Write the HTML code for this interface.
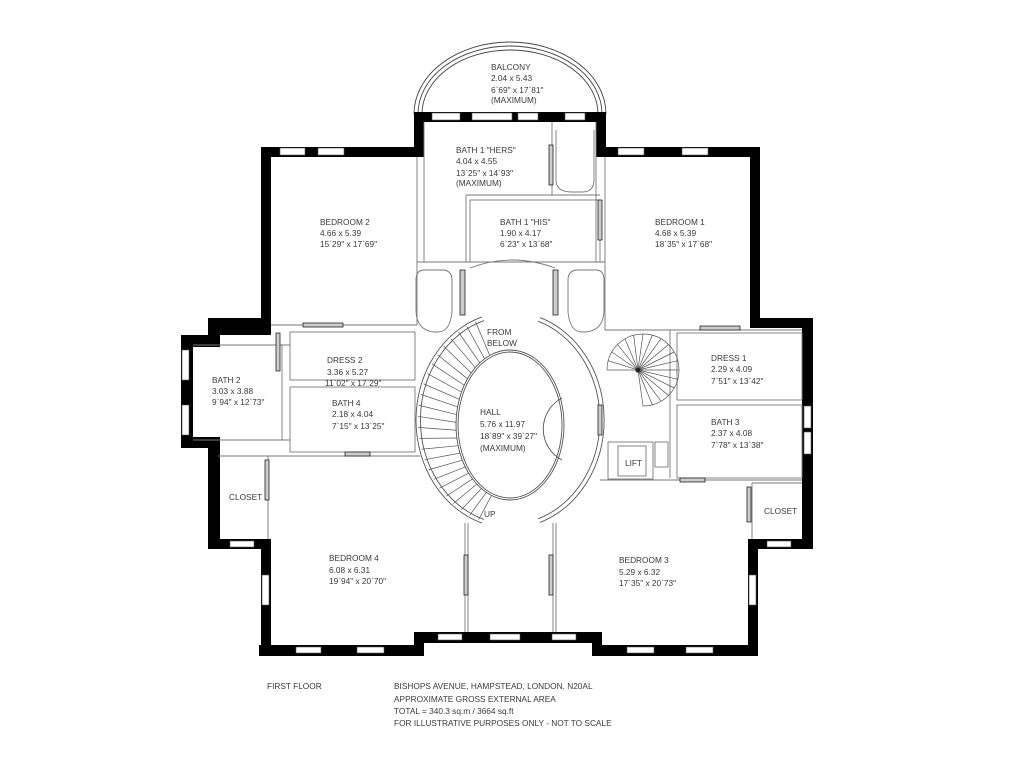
<!DOCTYPE html>
<html><head><meta charset="utf-8"><style>
html,body{margin:0;padding:0;background:#fff}
svg{display:block}
text{font-family:"Liberation Sans",sans-serif;font-size:8.3px;fill:#3a3a3a}
</style></head><body>
<svg width="1024" height="768" viewBox="0 0 1024 768" xmlns="http://www.w3.org/2000/svg">
<rect width="1024" height="768" fill="#fff"/>
<g fill="none" stroke="#444" stroke-width="0.9">
<path d="M414 114 A96 72 0 0 1 606 114"/>
<path d="M418 114 A92 68 0 0 1 602 114"/>
<path d="M422 114 A88 64 0 0 1 598 114"/>
</g>
<g fill="#000">
<rect x="414" y="112" width="192" height="10"/>
<rect x="414" y="112" width="10" height="45"/>
<rect x="596" y="112" width="10" height="45"/>
<rect x="261" y="147" width="163" height="10"/>
<rect x="596" y="147" width="164" height="10"/>
<rect x="261" y="147" width="10" height="188"/>
<rect x="750" y="147" width="10" height="180"/>
<rect x="208" y="318" width="63" height="17"/>
<rect x="181" y="335" width="39" height="12"/>
<rect x="181" y="335" width="12" height="113"/>
<rect x="181" y="437" width="39" height="11"/>
<rect x="208" y="437" width="12" height="112"/>
<rect x="208" y="539" width="63" height="10"/>
<rect x="261" y="539" width="10" height="117"/>
<rect x="259" y="645" width="165" height="11"/>
<rect x="414" y="632" width="10" height="24"/>
<rect x="414" y="632" width="188" height="11"/>
<rect x="592" y="632" width="10" height="24"/>
<rect x="592" y="645" width="166" height="11"/>
<rect x="748" y="539" width="10" height="117"/>
<rect x="748" y="539" width="65" height="10"/>
<rect x="750" y="318" width="63" height="10"/>
<rect x="802" y="318" width="11" height="231"/>
</g>
<g fill="#fff" stroke="#555" stroke-width="0.6">
<rect x="432" y="113" width="28" height="7"/><rect x="472" y="113" width="40" height="7"/><rect x="518" y="113" width="20" height="7"/><rect x="565" y="113" width="20" height="7"/>
<rect x="280" y="148" width="25" height="7"/><rect x="318" y="148" width="26" height="7"/>
<rect x="618" y="148" width="26" height="7"/><rect x="682" y="148" width="26" height="7"/>
<rect x="182" y="350" width="7" height="30"/><rect x="182" y="405" width="7" height="30"/>
<rect x="230" y="541" width="24" height="6"/>
<rect x="262" y="575" width="7" height="30"/>
<rect x="296" y="647" width="25" height="6"/><rect x="357" y="647" width="27" height="6"/>
<rect x="438" y="634" width="24" height="6"/><rect x="490" y="634" width="30" height="6"/><rect x="552" y="634" width="24" height="6"/>
<rect x="627" y="647" width="27" height="6"/><rect x="686" y="647" width="27" height="6"/>
<rect x="749" y="575" width="7" height="30"/>
<rect x="767" y="541" width="24" height="6"/>
<rect x="804" y="406" width="7" height="22"/><rect x="804" y="432" width="7" height="22"/>
</g>
<g fill="none" stroke="#777" stroke-width="0.9">
<line x1="417" y1="157" x2="417" y2="325"/>
<line x1="605" y1="157" x2="605" y2="330"/>
<line x1="271" y1="325" x2="417" y2="325"/>
<line x1="424" y1="122" x2="424" y2="262"/>
<line x1="596" y1="122" x2="596" y2="262"/>
<line x1="552" y1="122" x2="552" y2="195"/>
<line x1="466" y1="195" x2="600" y2="195"/>
<line x1="466" y1="195" x2="466" y2="262"/>
<rect x="470" y="200" width="130" height="62"/>
<line x1="417" y1="262" x2="605" y2="262"/>
<path d="M470 268 Q512 252 555 268"/>
<path d="M424 270 q-8 0 -8 10 v30 q0 20 18 22 h4 q12 0 14 -20 v-32 q0-10-10-10 z"/>
<path d="M596 270 q8 0 8 10 v30 q0 20 -18 22 h-4 q-12 0 -14 -20 v-32 q0-10 10-10 z"/>
<path d="M556 130 v50 q0 12 16 12 h10 q12 0 12 -12 v-50"/>
<rect x="290" y="332" width="125" height="48"/>
<rect x="290" y="387" width="125" height="65"/>
<line x1="193" y1="345" x2="290" y2="345"/>
<line x1="218" y1="456" x2="420" y2="456"/>
<line x1="193" y1="440" x2="290" y2="440"/>
<line x1="282" y1="345" x2="282" y2="440"/>
<line x1="268" y1="456" x2="268" y2="539"/>
<line x1="605" y1="330" x2="802" y2="330"/>
<rect x="677" y="333" width="125" height="67"/>
<rect x="677" y="405" width="125" height="73"/>
<line x1="670" y1="330" x2="670" y2="478"/>
<line x1="600" y1="480" x2="802" y2="480"/>
<line x1="752" y1="483" x2="752" y2="539"/>
<line x1="752" y1="483" x2="802" y2="483"/>
<rect x="608" y="442" width="45" height="37"/>
<rect x="618" y="446" width="28" height="30"/>
<rect x="655" y="442" width="13" height="25"/>
<line x1="465" y1="523" x2="465" y2="632"/>
<line x1="468" y1="523" x2="468" y2="632"/>
<line x1="553" y1="523" x2="553" y2="632"/>
<line x1="556" y1="523" x2="556" y2="632"/>
</g>
<g fill="none" stroke="#555" stroke-width="0.9">
<path d="M482 316.9 A94 108 0 0 0 482 523.1"/>
<path d="M484 320.6 A90 104 0 0 0 484 519.4"/>
<path d="M540 317.6 A94 108 0 0 1 540 522.4"/>
<path d="M538 321.2 A90 104 0 0 1 538 518.8"/>
<ellipse cx="510" cy="425" rx="54" ry="75"/>
<ellipse cx="510" cy="425" rx="52" ry="73"/>
<path d="M562 398 A35 35 0 0 0 562 460"/>
</g>
<g id="treads" stroke="#555" stroke-width="0.7"></g>
<g fill="none" stroke="#555" stroke-width="0.7">
<path d="M607 370 A36 36 0 1 1 643 406"/>
<g id="spiral"></g>
<circle cx="638" cy="370" r="2.5" fill="#222"/>
</g>
<g fill="#ccc" stroke="#222" stroke-width="0.8">
<rect x="460" y="270" width="5" height="45"/><rect x="553" y="270" width="5" height="45"/>
<rect x="549" y="145" width="4" height="40"/><rect x="598" y="200" width="4" height="40"/>
<rect x="303" y="323" width="40" height="4"/><rect x="700" y="326" width="40" height="4"/>
<rect x="276" y="333" width="4" height="38"/><rect x="345" y="452" width="25" height="4"/>
<rect x="265" y="460" width="4" height="40"/><rect x="598" y="405" width="4" height="30"/>
<rect x="680" y="478" width="25" height="4"/><rect x="747" y="487" width="4" height="35"/>
<rect x="464" y="555" width="4" height="40"/><rect x="549" y="555" width="4" height="40"/>
</g>
<text x="491" y="70">BALCONY</text><text x="491" y="81">2.04 x 5.43</text><text x="491" y="93">6`69" x 17`81"</text><text x="491" y="103">(MAXIMUM)</text>
<text x="456" y="153">BATH 1 "HERS"</text><text x="456" y="164">4.04 x 4.55</text><text x="456" y="176">13`25" x 14`93"</text><text x="456" y="186">(MAXIMUM)</text>
<text x="320" y="225">BEDROOM 2</text><text x="320" y="236">4.66 x 5.39</text><text x="320" y="247">15`29" x 17`69"</text>
<text x="500" y="225">BATH 1 "HIS"</text><text x="500" y="236">1.90 x 4.17</text><text x="500" y="247">6`23" x 13`68"</text>
<text x="655" y="225">BEDROOM 1</text><text x="655" y="236">4.68 x 5.39</text><text x="655" y="247">18`35" x 17`68"</text>
<text x="487" y="335">FROM</text><text x="487" y="346">BELOW</text>
<text x="327" y="363">DRESS 2</text><text x="327" y="375">3.36 x 5.27</text><text x="325" y="386">11`02" x 17`29"</text>
<text x="212" y="383">BATH 2</text><text x="212" y="394">3.03 x 3.88</text><text x="212" y="405">9`94" x 12`73"</text>
<text x="332" y="406">BATH 4</text><text x="332" y="417">2.18 x 4.04</text><text x="332" y="429">7`15" x 13`25"</text>
<text x="480" y="415">HALL</text><text x="480" y="427">5.76 x 11.97</text><text x="480" y="439">18`89" x 39`27"</text><text x="480" y="451">(MAXIMUM)</text>
<text x="711" y="361">DRESS 1</text><text x="711" y="372">2.29 x 4.09</text><text x="711" y="384">7`51" x 13`42"</text>
<text x="711" y="425">BATH 3</text><text x="711" y="436">2.37 x 4.08</text><text x="711" y="448">7`78" x 13`38"</text>
<text x="625" y="466">LIFT</text>
<text x="229" y="500">CLOSET</text><text x="764" y="514">CLOSET</text>
<text x="484" y="517">UP</text>
<text x="329" y="561">BEDROOM 4</text><text x="329" y="573">6.08 x 6.31</text><text x="329" y="584">19`94" x 20`70"</text>
<text x="619" y="563">BEDROOM 3</text><text x="619" y="575">5.29 x 6.32</text><text x="619" y="586">17`35" x 20`73"</text>
<text x="267" y="689">FIRST FLOOR</text>
<text x="394" y="689">BISHOPS AVENUE, HAMPSTEAD, LONDON, N20AL</text>
<text x="394" y="702">APPROXIMATE GROSS EXTERNAL AREA</text>
<text x="394" y="714">TOTAL = 340.3 sq.m / 3664 sq.ft</text>
<text x="394" y="726">FOR ILLUSTRATIVE PURPOSES ONLY - NOT TO SCALE</text>
</svg>
<script>
var ns="http://www.w3.org/2000/svg";
var g=document.getElementById("treads");
for(var a=112;a<=252;a+=6){var r=a*Math.PI/180;
var l=document.createElementNS(ns,"line");
l.setAttribute("x1",510+54*Math.cos(r));l.setAttribute("y1",425-75*Math.sin(r));
l.setAttribute("x2",510+92*Math.cos(r));l.setAttribute("y2",420-106*Math.sin(r));g.appendChild(l);}
var s=document.getElementById("spiral");
for(var a=-90;a<=180;a+=15){var r=a*Math.PI/180;
var l=document.createElementNS(ns,"line");
l.setAttribute("x1",638);l.setAttribute("y1",370);
l.setAttribute("x2",643+36*Math.cos(r));l.setAttribute("y2",370-36*Math.sin(r));s.appendChild(l);}
</script>
</body></html>
